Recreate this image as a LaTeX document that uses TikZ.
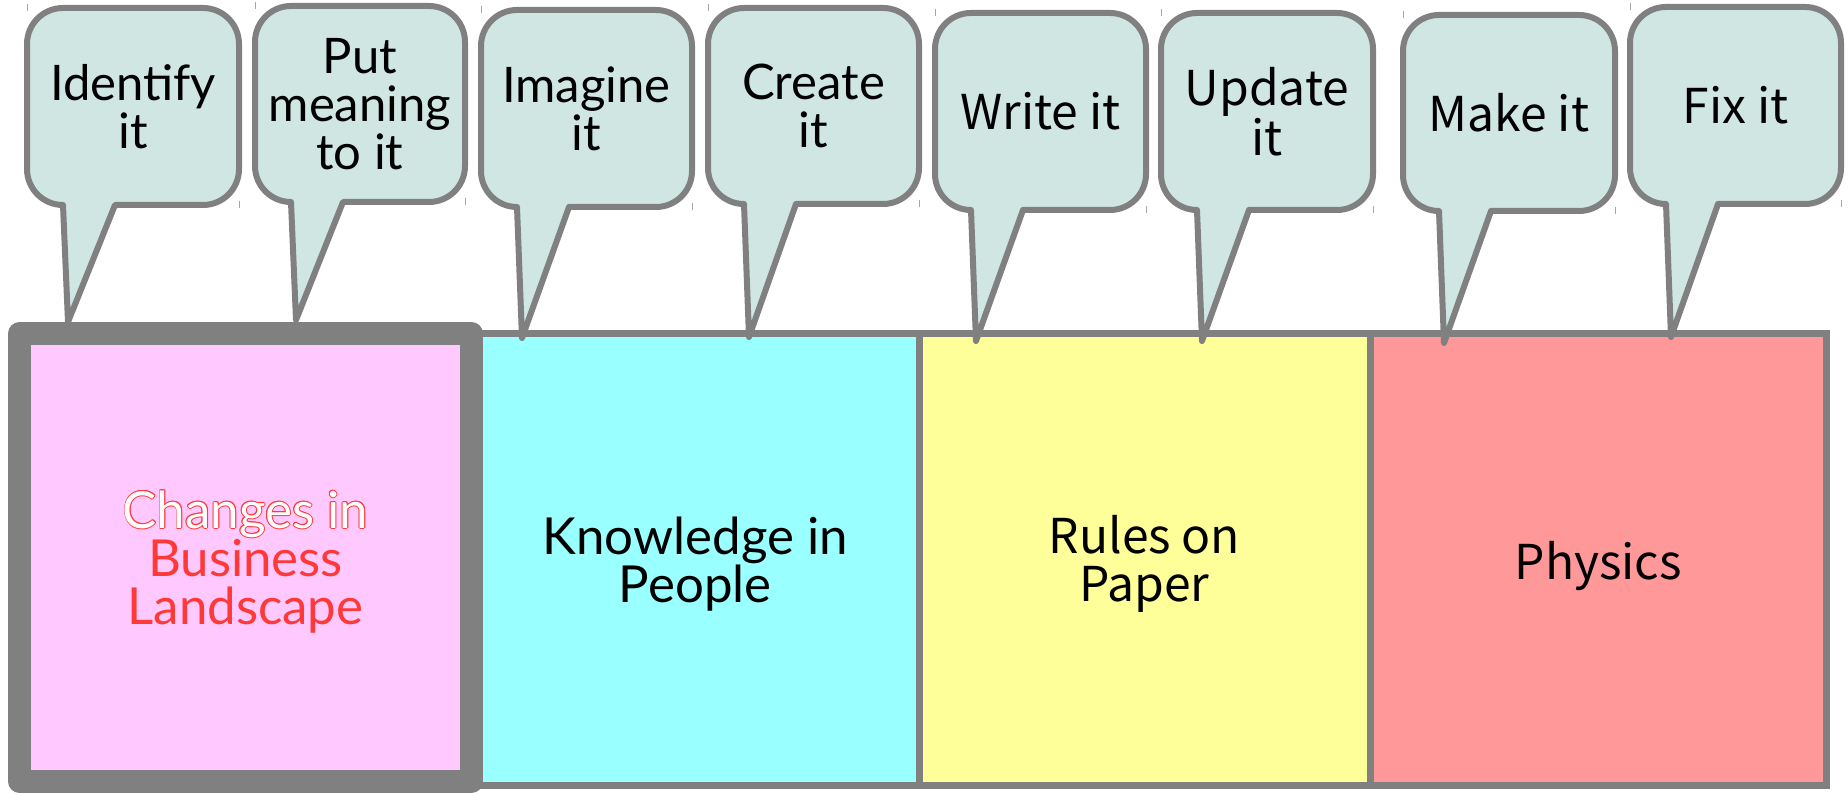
\documentclass[tikz,border=0pt]{standalone}
\usepackage{fontspec}
\setmainfont{Lato}
\newfontfamily\jpf{Noto Sans CJK JP}
\definecolor{bgray}{HTML}{808080}
\definecolor{bubfill}{HTML}{CFE6E3}
\definecolor{pinkc}{HTML}{FFC9FF}
\definecolor{cyanc}{HTML}{99FFFF}
\definecolor{yellc}{HTML}{FFFF99}
\definecolor{redc}{HTML}{FF9999}
\definecolor{txtred}{HTML}{FF3838}
\tikzset{
  bub/.style={draw=bgray, fill=bubfill, line width=3pt, line join=round},
  tickmark/.style={draw=black!35, line width=0.5pt},
  lato/.style={font=\fontsize{24.5}{24}\selectfont},
  jp/.style={font=\jpf\fontsize{24}{23.5}\selectfont},
  blato/.style={font=\fontsize{25.5}{24}\selectfont},
  bjp/.style={font=\jpf\fontsize{24}{24}\selectfont},
  btxt/.style={align=center, inner sep=0pt},
  boxst/.style={draw=bgray, line width=3.5pt, rectangle, inner sep=0pt}
}
\newcommand\hollow[1]{%
  \makebox[0pt][l]{\textcolor{txtred}{\hspace*{0.42pt}#1}}%
  \makebox[0pt][l]{\textcolor{txtred}{\hspace*{-0.42pt}#1}}%
  \makebox[0pt][l]{\raisebox{0.42pt}{\textcolor{txtred}{#1}}}%
  \makebox[0pt][l]{\raisebox{-0.42pt}{\textcolor{txtred}{#1}}}%
  \makebox[0pt][l]{\raisebox{0.3pt}{\textcolor{txtred}{\hspace*{0.3pt}#1}}}%
  \makebox[0pt][l]{\raisebox{0.3pt}{\textcolor{txtred}{\hspace*{-0.3pt}#1}}}%
  \makebox[0pt][l]{\raisebox{-0.3pt}{\textcolor{txtred}{\hspace*{0.3pt}#1}}}%
  \makebox[0pt][l]{\raisebox{-0.3pt}{\textcolor{txtred}{\hspace*{-0.3pt}#1}}}%
  \textcolor{white}{#1}}
% name, x0, y0, x1, y1, tipy, font style, text
\newcommand\spbubble[8]{%
  \pgfmathsetmacro\ba{#2+36}\pgfmathsetmacro\bb{#2+88}\pgfmathsetmacro\bt{#2+41}%
  \pgfmathsetmacro\bxr{#4-36}\pgfmathsetmacro\bxc{#4-16.1}\pgfmathsetmacro\bxl{#2+16.1}%
  \pgfmathsetmacro\byr{#5-36}\pgfmathsetmacro\byc{#5-16.1}%
  \pgfmathsetmacro\byt{#3+36}\pgfmathsetmacro\bytc{#3+16.1}%
  \pgfmathsetmacro\bcx{(#2+#4)/2}\pgfmathsetmacro\bcy{(#3+#5)/2}%
  \draw[tickmark] (#2,#3-3.5) -- (#2,#3+3.5);
  \draw[tickmark] (#4,#5-3.5) -- (#4,#5+3.5);
  \draw[bub] (\ba,#5) -- (\bt,#6) -- (\bb,#5) -- (\bxr,#5)
    .. controls (\bxc,#5) and (#4,\byc) .. (#4,\byr) -- (#4,\byt)
    .. controls (#4,\bytc) and (\bxc,#3) .. (\bxr,#3) -- (\ba,#3)
    .. controls (\bxl,#3) and (#2,\bytc) .. (#2,\byt) -- (#2,\byr)
    .. controls (#2,\byc) and (\bxl,#5) .. (\ba,#5) -- cycle;
  \node[btxt,#7] (#1) at (\bcx,\bcy) {#8};
}
\begin{document}
\begin{tikzpicture}[x=0.5pt,y=-0.5pt]
\useasboundingbox (0,0) rectangle (1848,795);
% boxes
\node[boxst, fill=cyanc, minimum width=223.75pt, minimum height=226.25pt] (b2) at (695.25,559.75) {};
\node[boxst, fill=yellc, minimum width=225.5pt, minimum height=226.25pt] (b3) at (1144.5,559.75) {};
\node[boxst, fill=redc, minimum width=228.25pt, minimum height=226.25pt] (b4) at (1598.25,559.75) {};
\node[boxst, fill=pinkc, line width=11.5pt, line join=round, minimum width=226pt, minimum height=224pt] (b1) at (245.5,557.5) {};
% box labels
\node[btxt, blato, text=txtred] (t1) at ([yshift=-2pt]b1.center) {\hollow{Changes in}\\Business\\Landscape};
\node[btxt, blato] (t2) at ([yshift=-2pt]b2.center) {Knowledge in\\People};
\node[btxt, bjp] (t3) at ([yshift=-2pt]b3.center) {Rules on\\Paper};
\node[btxt, bjp] (t4) at ([yshift=-3pt]b4.center) {Physics};
% bubbles
\spbubble{s1}{27}{8}{239}{205}{322}{lato}{Identify\\it}
\spbubble{s2}{255}{6}{465}{202}{320}{lato}{Put\\meaning\\to it}
\spbubble{s3}{481}{10}{692}{207}{338}{lato}{Imagine\\it}
\spbubble{s4}{708}{8}{919}{204}{337}{lato}{Create\\it}
\spbubble{s5}{935}{13}{1146}{210}{341}{jp}{Write it}
\spbubble{s6}{1161}{13}{1373}{210}{341}{jp}{Update\\it}
\spbubble{s7}{1403}{15}{1615}{211}{343}{jp}{Make it}
\spbubble{s8}{1630}{7}{1841}{204}{337}{jp}{Fix it}
\end{tikzpicture}
\end{document}
